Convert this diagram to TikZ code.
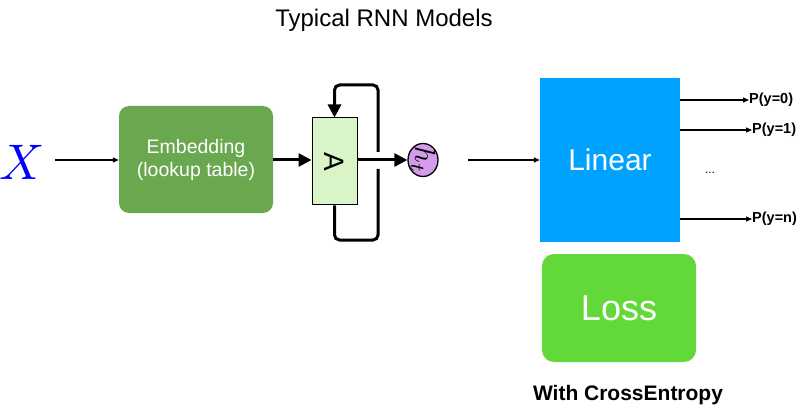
\documentclass[tikz,border=0pt]{standalone}
\usepackage{fontspec}
\setmainfont{Liberation Sans}
\usetikzlibrary{arrows.meta,shapes.geometric}
\definecolor{embg}{HTML}{6AA84F}
\definecolor{cellg}{HTML}{D9F5C8}
\definecolor{hpur}{HTML}{D59BEB}
\definecolor{linb}{HTML}{00A2FF}
\definecolor{lossg}{HTML}{62D938}
\begin{document}
\begin{tikzpicture}[x=1pt,y=-1pt,
  thin arr/.style={-{Triangle[length=6pt,width=5pt]},line width=1.2pt},
  thick arr/.style={-{Triangle[length=13pt,width=13pt]},line width=3pt},
  loopline/.style={line width=3pt,rounded corners=5pt},
  lbl/.style={font=\bfseries\fontsize{14.5}{16}\selectfont,anchor=west,inner sep=0pt}]
\useasboundingbox (0,0) rectangle (808,414);
\node (title) at (384,20) {\fontsize{24}{28}\selectfont Typical RNN Models};
\node[text=blue,inner sep=0pt,scale=5] (X) at (22,162) {$X$};
\node[fill=embg,rounded corners=10pt,minimum width=154pt,minimum height=107pt,text=white,align=center,font=\fontsize{19.5}{23}\selectfont] (emb) at (196,159.5) {Embedding\\(lookup table)};
\node[draw=black,line width=1pt,fill=cellg,minimum width=45pt,minimum height=87pt,inner sep=0pt] (A) at (334.5,161.5) {};
\node[rotate=-90,font=\fontsize{28}{28}\selectfont] at (A.center) {A};
\node[draw=black,line width=1.3pt,fill=hpur,ellipse,minimum width=30pt,minimum height=33pt,inner sep=0pt] (h) at (423,160) {};
\node[rotate=-90,scale=2.9,inner sep=0pt] at (h.center) {$h_t$};
\node[fill=linb,minimum width=140pt,minimum height=164pt,text=white,font=\fontsize{30}{32}\selectfont] (lin) at (610,160) {Linear};
\node[fill=lossg,rounded corners=12pt,minimum width=154pt,minimum height=108pt,text=white,font=\fontsize{36}{38}\selectfont] (loss) at (619,308) {Loss};
\node[font=\bfseries\fontsize{21}{24}\selectfont] (ce) at (628,395) {With CrossEntropy};
\coordinate (xs) at (55,160);
\draw[thin arr] (xs) -- (xs -| emb.west);
\draw[thick arr] (emb.east |- 0,160) -- (A.west |- 0,160);
\draw[thick arr] (A.east |- 0,160) -- (h.west);
\coordinate (l1) at (378,85);
\coordinate (l2) at (378,240);
\coordinate (g1) at (378,169);
\coordinate (g2) at (378,152);
\draw[loopline] (A.south) -- (A.south |- l2) -- (l2) -- (g1);
\draw[loopline,-{Triangle[length=13pt,width=13pt]}] (g2) -- (l1) -- (A.north |- l1) -- (A.north);
\coordinate (hs) at (468,160);
\draw[thin arr] (hs) -- (lin.west |- hs);
\node[lbl] (p0) at (749,100) {P(y=0)};
\node[lbl] (p1) at (752,130) {P(y=1)};
\node[lbl] (pn) at (752,219) {P(y=n)};
\node[font=\fontsize{12}{12}\selectfont] (dots) at (710,173) {...};
\draw[thin arr] (lin.east |- p0) -- (p0.west);
\draw[thin arr] (lin.east |- p1) -- (p1.west);
\draw[thin arr] (lin.east |- pn) -- (pn.west);
\end{tikzpicture}
\end{document}
